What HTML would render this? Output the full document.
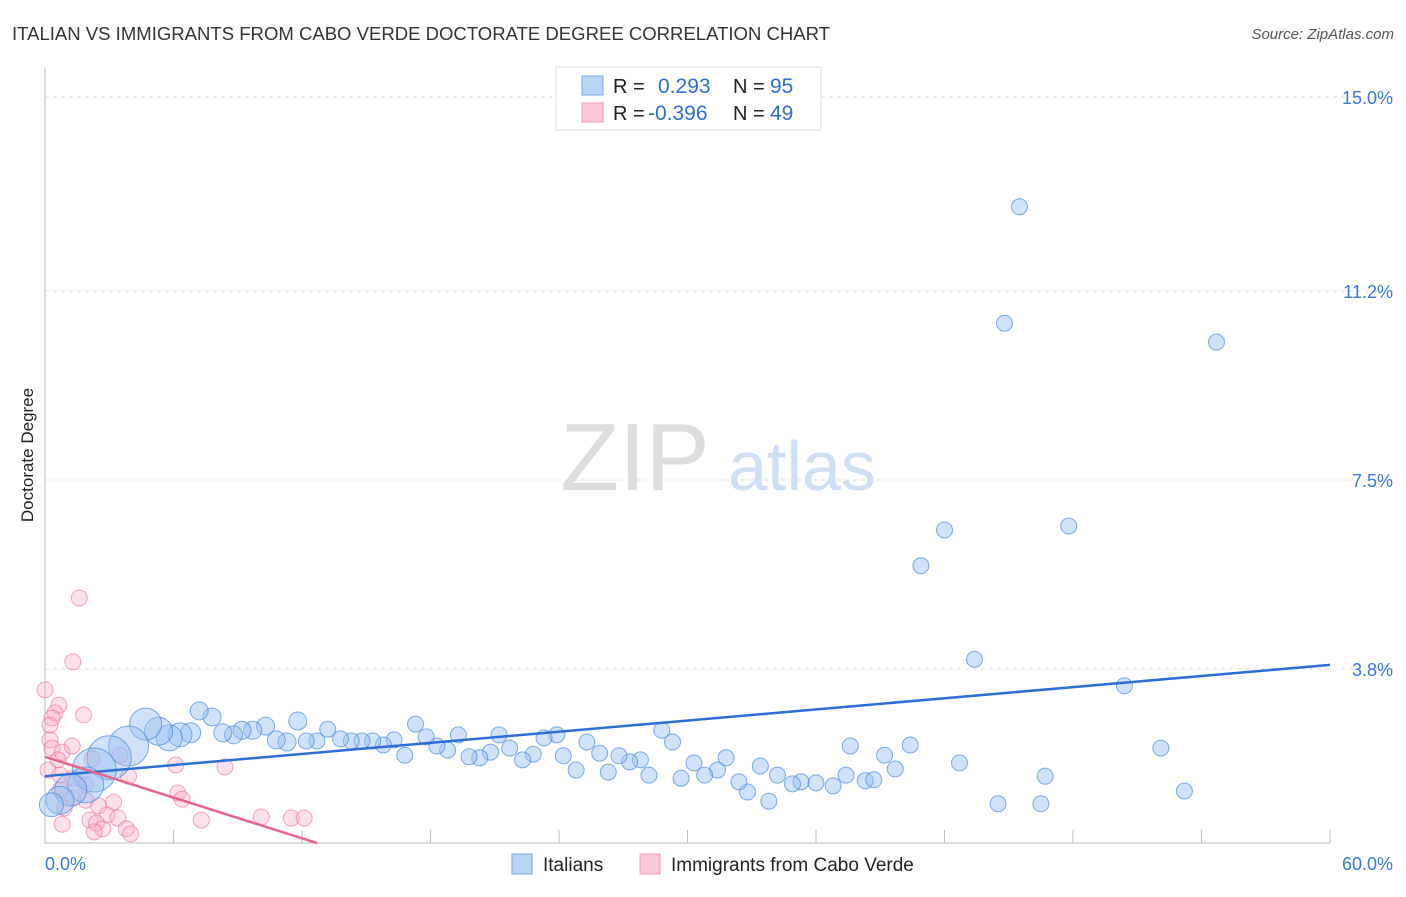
<!DOCTYPE html>
<html><head><meta charset="utf-8"><style>
body{margin:0;background:#fff;font-family:"Liberation Sans",sans-serif;}
svg text{font-family:"Liberation Sans",sans-serif;}
</style></head><body>
<svg id="c" width="1406" height="892" xmlns="http://www.w3.org/2000/svg">
<text x="12" y="40" font-size="18" fill="#333" textLength="818" lengthAdjust="spacingAndGlyphs">ITALIAN VS IMMIGRANTS FROM CABO VERDE DOCTORATE DEGREE CORRELATION CHART</text>
<text x="1394" y="39" font-size="15" fill="#555" font-style="italic" text-anchor="end">Source: ZipAtlas.com</text>
<text transform="translate(33,455) rotate(-90)" font-size="17" fill="#222" text-anchor="middle">Doctorate Degree</text>
<g><text x="635" y="490" font-size="96" fill="#ddd" font-family="Liberation Serif" text-anchor="middle">ZIP</text><text x="802" y="490" font-size="70" fill="#cfe0f5" text-anchor="middle">atlas</text></g>
<g id="grid"></g><g id="marks"></g>
<g>
<rect x="556" y="67" width="265" height="63" fill="#fff" stroke="#ddd"/>
<rect x="582" y="76" width="21" height="19" fill="#b8d4f6" stroke="#7aa8e6"/>
<rect x="582" y="103" width="21" height="19" fill="#fcc8d8" stroke="#f09ab5"/>
<text x="613" y="93" font-size="20" fill="#222">R = </text><text x="658" y="93" font-size="21" fill="#2f6fd0">0.293</text>
<text x="733" y="93" font-size="20" fill="#222">N = </text><text x="770" y="93" font-size="21" fill="#2f6fd0">95</text>
<text x="613" y="120" font-size="20" fill="#222">R = </text><text x="648" y="120" font-size="21" fill="#2f6fd0">-0.396</text>
<text x="733" y="120" font-size="20" fill="#222">N = </text><text x="770" y="120" font-size="21" fill="#2f6fd0">49</text>
</g>
<g>
<rect x="512" y="854" width="20" height="20" fill="#b8d4f6" stroke="#7aa8e6"/>
<text x="543" y="871" font-size="19" fill="#222">Italians</text>
<rect x="640" y="854" width="20" height="20" fill="#fcc8d8" stroke="#f09ab5"/>
<text x="671" y="871" font-size="19" fill="#222">Immigrants from Cabo Verde</text>
</g>
<text x="45" y="870" font-size="18" fill="#3a78d4">0.0%</text>
<text x="1393" y="870" font-size="18" fill="#3a78d4" text-anchor="end">60.0%</text>
</svg>
<script>
const yTicks=[15.0,11.2,7.5,3.8];
const yTickLabels=["15.0%","11.2%","7.5%","3.8%"];
const xTicks=[6,12,18,24,30,36,42,48,54,60];
const blueX=[45.5,44.8,54.7,42.0,47.8,40.9,43.4,50.4,52.1,53.2,44.5,46.5,46.7,42.7,40.4,39.2,39.7,37.6,37.4,38.3,38.7,36.8,36.0,35.3,34.9,34.2,33.8,33.4,32.8,32.4,31.8,31.4,30.8,30.3,29.7,29.3,28.8,28.2,27.8,27.3,26.8,26.3,25.9,25.3,24.8,24.2,23.9,23.3,22.8,22.3,21.7,21.2,20.8,20.3,19.8,19.3,18.8,18.3,17.8,17.3,16.8,16.3,15.8,15.3,14.8,14.3,13.8,13.2,12.7,12.2,11.8,11.3,10.8,10.3,9.7,9.2,8.8,8.3,7.8,7.2,6.8,6.3,5.8,5.3,4.7,3.9,3.0,2.3,1.9,1.2,0.7,0.3];
const blueY=[12.85,10.57,10.2,6.52,6.6,5.82,3.99,3.47,2.25,1.41,1.16,1.16,1.70,1.96,2.31,2.11,1.84,2.29,1.72,1.61,1.63,1.51,1.57,1.59,1.55,1.72,1.21,1.90,1.39,1.59,2.06,1.82,1.72,1.96,1.66,2.37,2.60,1.72,2.02,1.98,2.10,1.78,2.15,2.37,1.82,2.10,2.51,2.45,2.13,2.02,2.25,2.51,2.17,2.06,2.08,2.51,2.21,2.29,2.47,2.72,2.11,2.41,2.31,2.39,2.39,2.39,2.43,2.62,2.39,2.39,2.78,2.37,2.41,2.68,2.60,2.60,2.51,2.55,2.86,2.98,2.55,2.51,2.45,2.58,2.72,2.29,2.06,1.82,1.53,1.43,1.23,1.14];
const blueR=[8,8,8,8,8,8,8,8,8,8,8,8,8,8,8,8,8,8,8,8,8,8,8,8,8,8,8,8,8,8,8,8,8,8,8,8,8,8,8,8,8,8,8,8,8,8,8,8,8,8,8,8,8,8,8,8,8,8,8,8,8,8,8,8,8,8,8,8,8,8,9,9,9,9,9,9,9,9,9,9,10,12,13,14,16,20,22,22,18,16,14,12];
const pinkX=[1.6,1.3,0,0.65,0.47,0.33,1.8,0.23,0.23,0.33,0.8,1.27,0.6,2.2,3.5,6.1,8.4,0.14,0.7,1.3,1.9,3.9,0.7,1.3,1.9,3.2,6.2,6.4,0.9,2.5,2.9,3.4,2.1,0.8,2.4,2.7,3.8,4.0,2.3,7.3,10.1,11.5,12.1];
const pinkY=[5.19,3.94,3.39,3.09,2.94,2.84,2.90,2.70,2.41,2.25,2.17,2.29,2.02,2.04,2.11,1.92,1.88,1.82,1.72,1.66,1.53,1.70,1.43,1.27,1.23,1.19,1.37,1.25,1.08,1.12,0.94,0.88,0.84,0.76,0.78,0.67,0.67,0.57,0.61,0.84,0.90,0.88,0.88];
const blueFit=[1.70,3.88];
const pinkFit=[2.08,-5.90];
const X=v=>45+v*1285/60, Y=v=>863-v*766/15;
const NS="http://www.w3.org/2000/svg";
function mk(t,a,p){const e=document.createElementNS(NS,t);for(const k in a)e.setAttribute(k,a[k]);p.appendChild(e);return e;}
const g=document.getElementById('grid'),m=document.getElementById('marks');
const ax=mk('line',{x1:45,y1:68,x2:45,y2:843,stroke:'#bbb'},g);


const bx=mk('line',{x1:45,y1:843,x2:1330,y2:843,stroke:'#bbb'},g);


yTicks.forEach((v,i)=>{
 const l=mk('line',{x1:45,y1:Y(v),x2:1394,y2:Y(v),stroke:'#ddd','stroke-dasharray':'4,4'},g);
 
 
 const t=mk('text',{x:1393,y:Y(v)+7,'font-size':18,fill:'#3a78d4','text-anchor':'end'},g);t.textContent=yTickLabels[i];
 
 
});
xTicks.forEach(v=>{
 const l=mk('line',{x1:X(v),y1:830,x2:X(v),y2:843,stroke:'#bbb'},g);
 
 
});
pinkX.forEach((v,i)=>{
 const c=mk('circle',{cx:X(v),cy:Y(pinkY[i]),r:8,fill:'rgba(248,170,195,0.35)',stroke:'rgba(235,110,150,0.6)','stroke-width':1},m);
 
 
});
blueX.forEach((v,i)=>{
 const c=mk('circle',{cx:X(v),cy:Y(blueY[i]),r:blueR[i],fill:'rgba(150,190,240,0.45)',stroke:'rgba(60,130,220,0.65)','stroke-width':1},m);
 
 
});
const bl=mk('line',{x1:X(0),y1:Y(blueFit[0]),x2:X(60),y2:Y(blueFit[1]),stroke:'#2a6fd6','stroke-width':2.5},m);


const pEnd=(pinkFit[0]-0.39)/(pinkFit[0]-pinkFit[1])*60;
const pl=mk('line',{x1:X(0),y1:Y(pinkFit[0]),x2:X(pEnd),y2:Y(pinkFit[0]+(pinkFit[1]-pinkFit[0])*pEnd/60),stroke:'#e8628f','stroke-width':2.5},m);


</script>
</body></html>
